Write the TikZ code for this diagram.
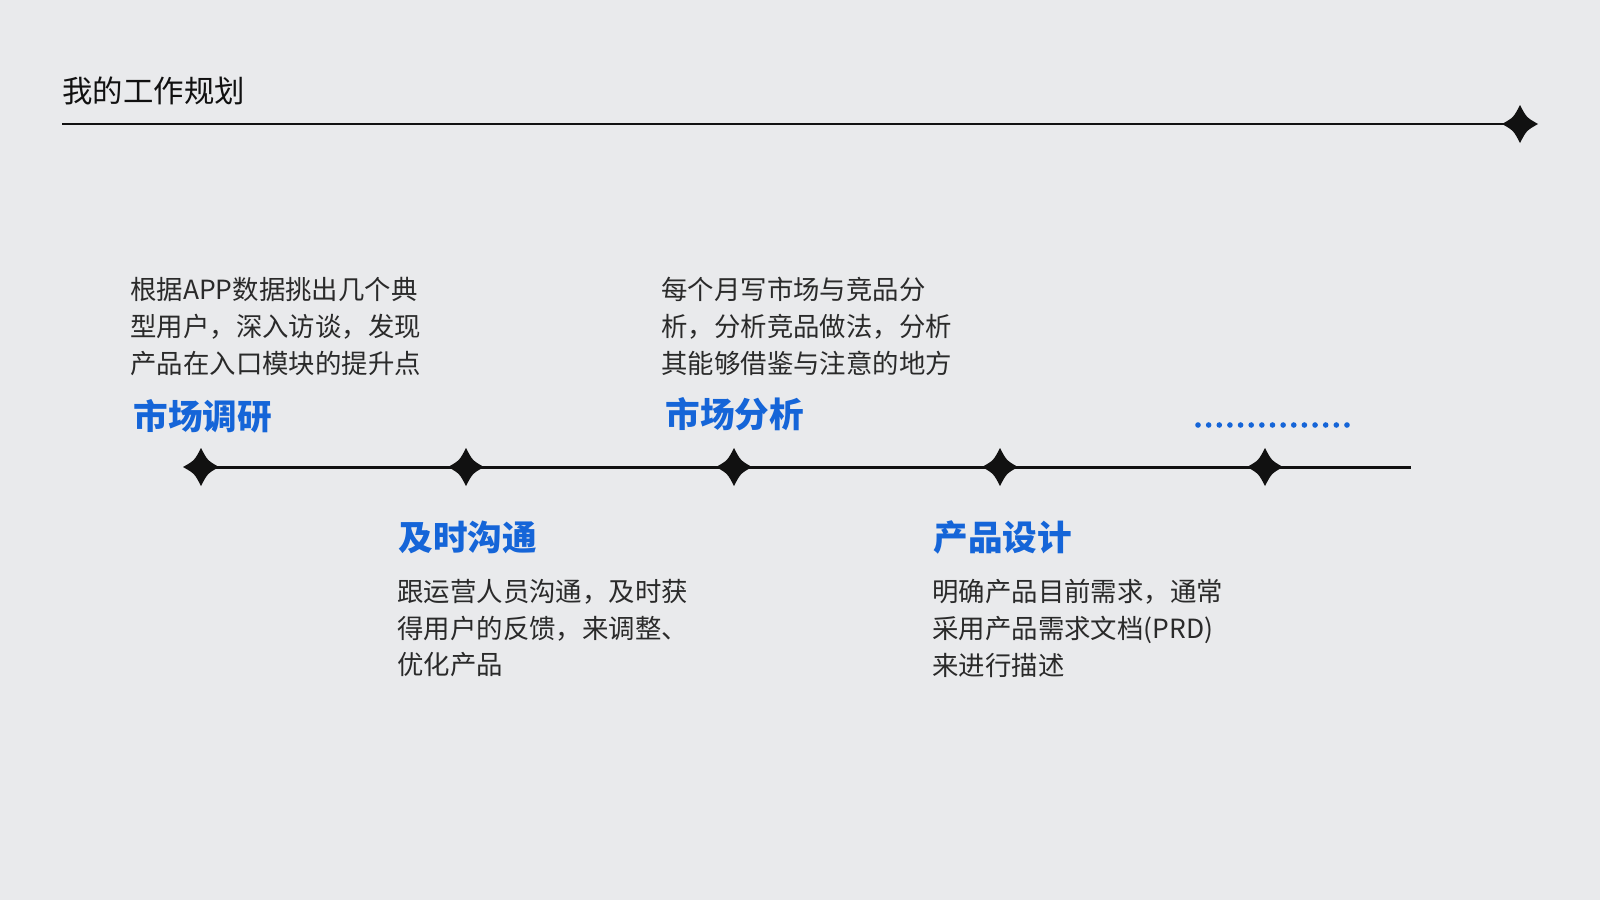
\documentclass[tikz,border=0pt]{standalone}
\usepackage{fontspec}
\setmainfont{Noto Sans CJK SC}
\definecolor{bg}{HTML}{E9EAEC}
\definecolor{plan}{HTML}{1565D8}
\definecolor{ink}{HTML}{111111}
\definecolor{txt}{HTML}{2A2A2A}

\begin{document}
\begin{tikzpicture}[x=0.5pt,y=-0.5pt,
  sparkle/.pic={\fill[ink] (18,0) .. controls (6.5,6.5) .. (0,19) .. controls (-6.5,6.5) .. (-18,0) .. controls (-6.5,-6.5) .. (0,-19) .. controls (6.5,-6.5) .. cycle;},
  title/.style={anchor=north west,inner sep=0,text=ink,font=\fontsize{15.2}{18}\selectfont},
  stage/.style={anchor=north west,inner sep=0,text=plan,font=\fontsize{17.3}{20}\selectfont\bfseries},
  note/.style={anchor=north west,inner sep=0,align=left,text=txt,font=\fontsize{13.2}{18.35}\selectfont}]
  \fill[bg] (0,0) rectangle (1600,900);
  \useasboundingbox (0,0) rectangle (1600,900);

  \node[title] (plan) at (62,76) {我的工作规划};
  \coordinate (tl) at (62,124);
  \coordinate (tr) at (1520,124);
  \draw[ink,line width=1.2pt] (tl) -- (tr);
  \pic at (tr) {sparkle};

  \coordinate (s1) at (201,467);
  \coordinate (s2) at (466,467);
  \coordinate (s3) at (734,467);
  \coordinate (s4) at (1000,467);
  \coordinate (s5) at (1265,467);
  \coordinate (send) at (1411,467);
  \draw[ink,line width=1.5pt] (s1) -- (send);
  \foreach \s in {s1,s2,s3,s4,s5} \pic at (\s) {sparkle};

  \node[note] (n1) at (130,277) {根据APP数据挑出几个典\\型用户，深入访谈，发现\\产品在入口模块的提升点};
  \node[stage] (research) at (133,399) {市场调研};

  \node[stage] (talk) at (398,521) {及时沟通};
  \node[note] (n2) at (397,579) {跟运营人员沟通，及时获\\得用户的反馈，来调整、\\优化产品};

  \node[note] (n3) at (661,277) {每个月写市场与竞品分\\析，分析竞品做法，分析\\其能够借鉴与注意的地方};
  \node[stage] (analysis) at (665,397) {市场分析};

  \node[stage] (design) at (933,520) {产品设计};
  \node[note] (n4) at (932,579) {明确产品目前需求，通常\\采用产品需求文档(PRD)\\来进行描述};

  \foreach \i in {0,...,14} \fill[plan] (1198+\i*10.64,425) circle (2.8);
\end{tikzpicture}
\end{document}
